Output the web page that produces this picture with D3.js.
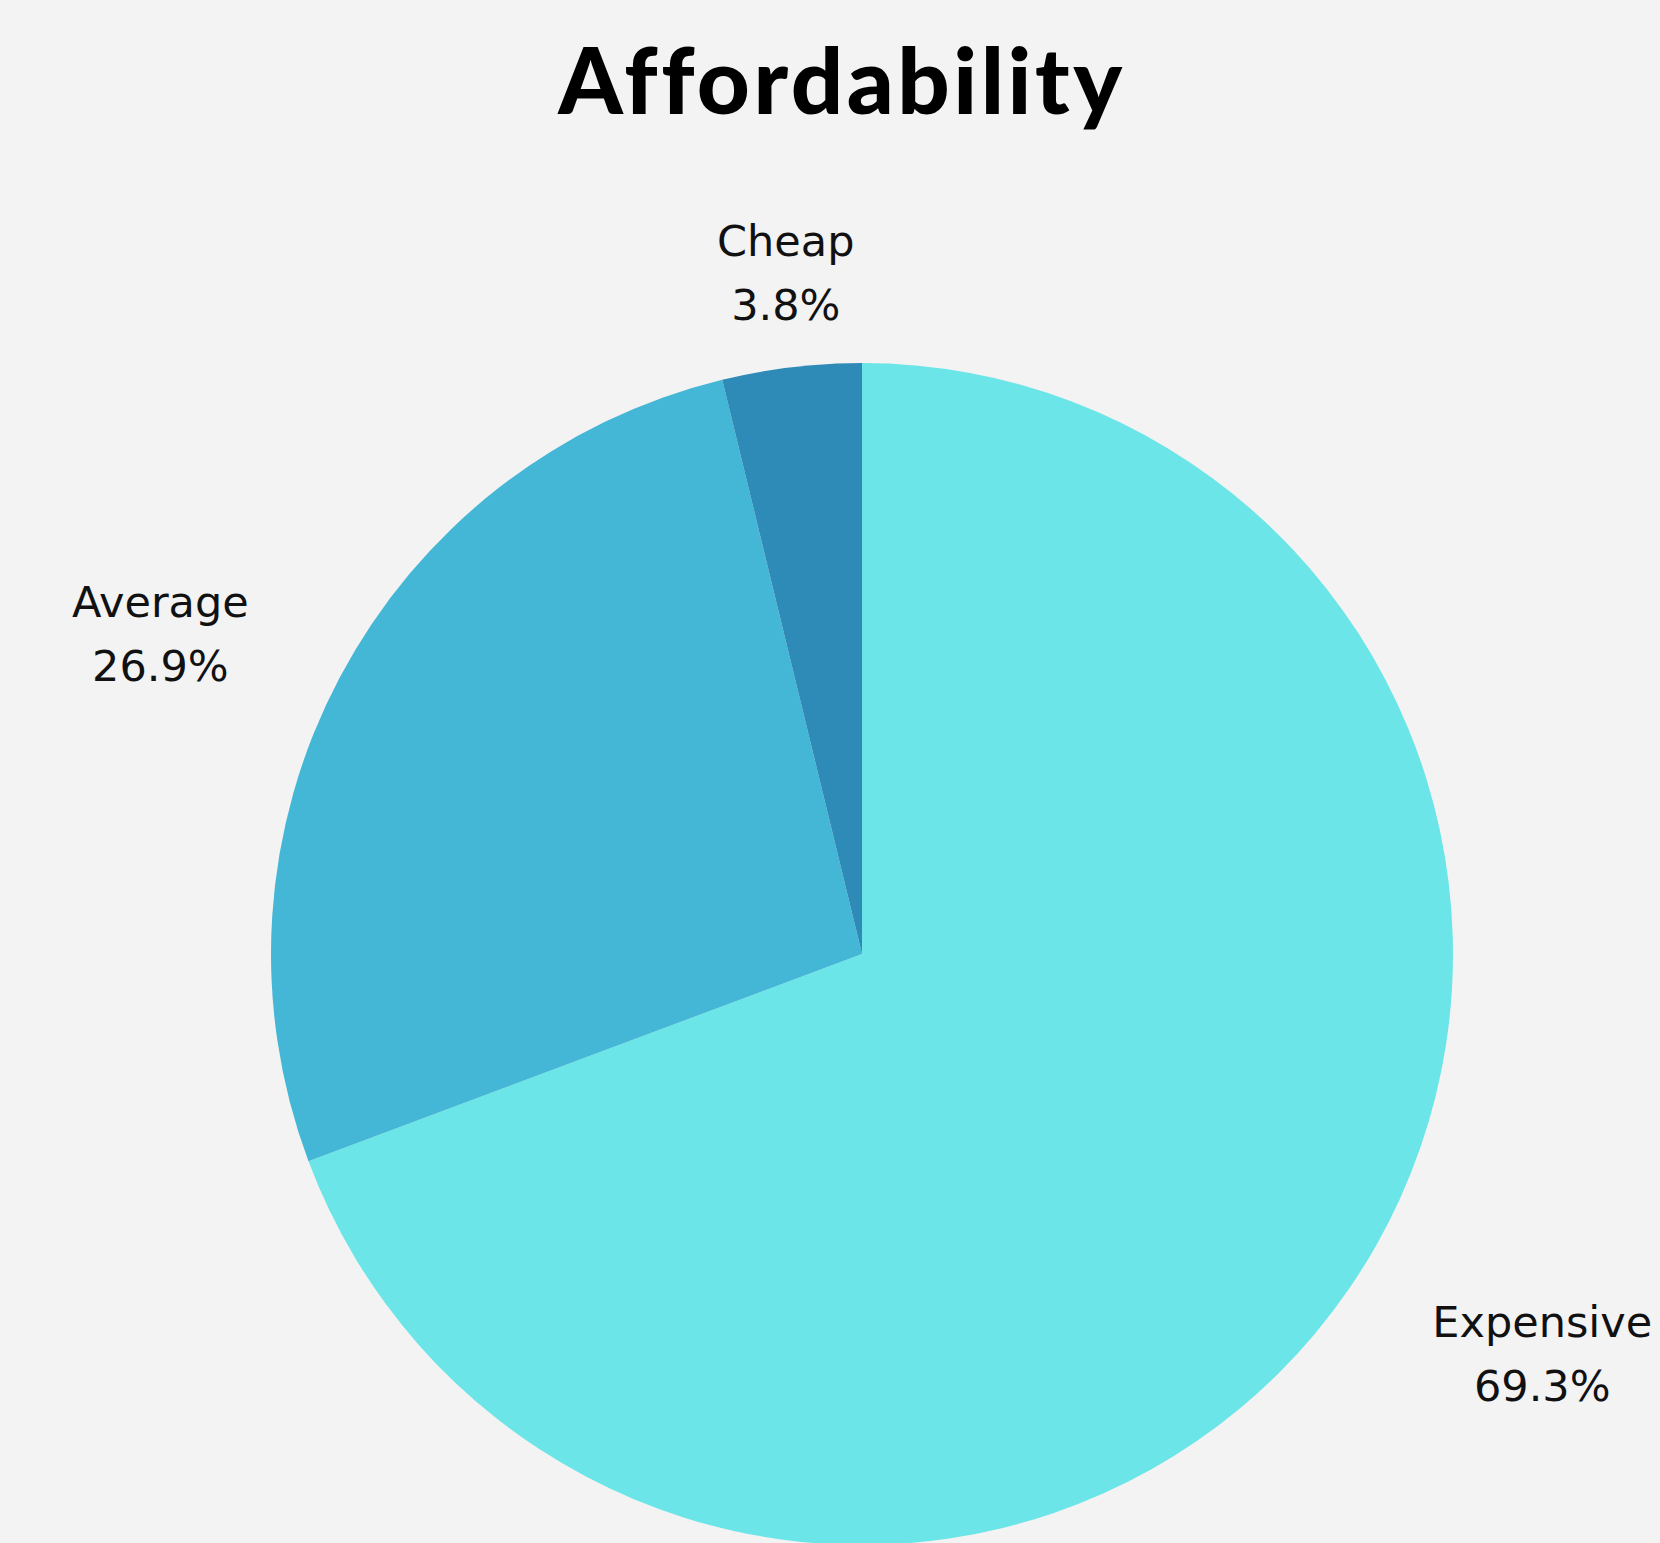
<!DOCTYPE html>
<html>
<head>
<meta charset="utf-8">
<script src="https://cdn.jsdelivr.net/npm/d3@7"></script>
<style>
  body { margin: 0; background: #f3f3f3; }
  svg { display: block; }
</style>
</head>
<body>
<div id="chart"></div>
<script>
  // data
  var categories = ["Expensive", "Average", "Cheap"];
  var shares = [69.3, 26.9, 3.8];
  var colours = ["#6ce5e8", "#43b7d5", "#2e8bb8"];

  var data = categories.map((c, i) => ({ name: c, value: shares[i] }));

  const width = 1660, height = 1543;
  const cx = 862, cy = 954, radius = 591;

  const svg = d3.select("#chart").append("svg")
    .attr("width", width)
    .attr("height", height);

  svg.append("rect")
    .attr("width", width)
    .attr("height", height)
    .attr("fill", "#f3f3f3");

  // title
  svg.append("text")
    .attr("x", 842)
    .attr("y", 114)
    .attr("text-anchor", "middle")
    .style("font-family", "Lato")
    .style("font-weight", 900)
    .style("font-size", "92px")
    .style("letter-spacing", "3.5px")
    .attr("fill", "#000")
    .text("Affordability");

  const color = d3.scaleOrdinal().domain(categories).range(colours);

  const pie = d3.pie()
    .sort(null)
    .value(d => d.value);

  const arc = d3.arc()
    .innerRadius(0)
    .outerRadius(radius);

  const g = svg.append("g")
    .attr("transform", `translate(${cx},${cy})`);

  const arcs = pie(data);

  g.selectAll("path")
    .data(arcs)
    .enter()
    .append("path")
    .attr("d", arc)
    .attr("fill", d => color(d.data.name));

  // labels outside the pie
  arcs.forEach(d => {
    const mid = (d.startAngle + d.endAngle) / 2;
    const s = Math.sin(mid), c = -Math.cos(mid);
    let x, y, anchor, topLine;
    if (Math.abs(s) > 0.5) {
      const r = 694;
      x = r * s; y = r * c;
      anchor = s > 0 ? "start" : "end";
      topLine = y - 12;
    } else {
      const r = 640;
      x = r * s; y = r * c;
      anchor = "middle";
      topLine = y - 63;
    }
    const t = g.append("text")
      .attr("text-anchor", "middle")
      .style("font-family", "DejaVu Sans")
      .style("font-size", "43px")
      .attr("fill", "#111");
    const l1 = t.append("tspan").attr("x", 0).attr("y", topLine).text(d.data.name);
    const l2 = t.append("tspan").attr("x", 0).attr("y", topLine + 64).text(d.data.value + "%");
    // both lines centred on one box, box edge touches the anchor point
    const w = t.node().getBBox().width;
    let bx = x;
    if (anchor === "start") bx = x + w / 2;
    if (anchor === "end") bx = x - w / 2;
    l1.attr("x", bx);
    l2.attr("x", bx);
  });
</script>
</body>
</html>
